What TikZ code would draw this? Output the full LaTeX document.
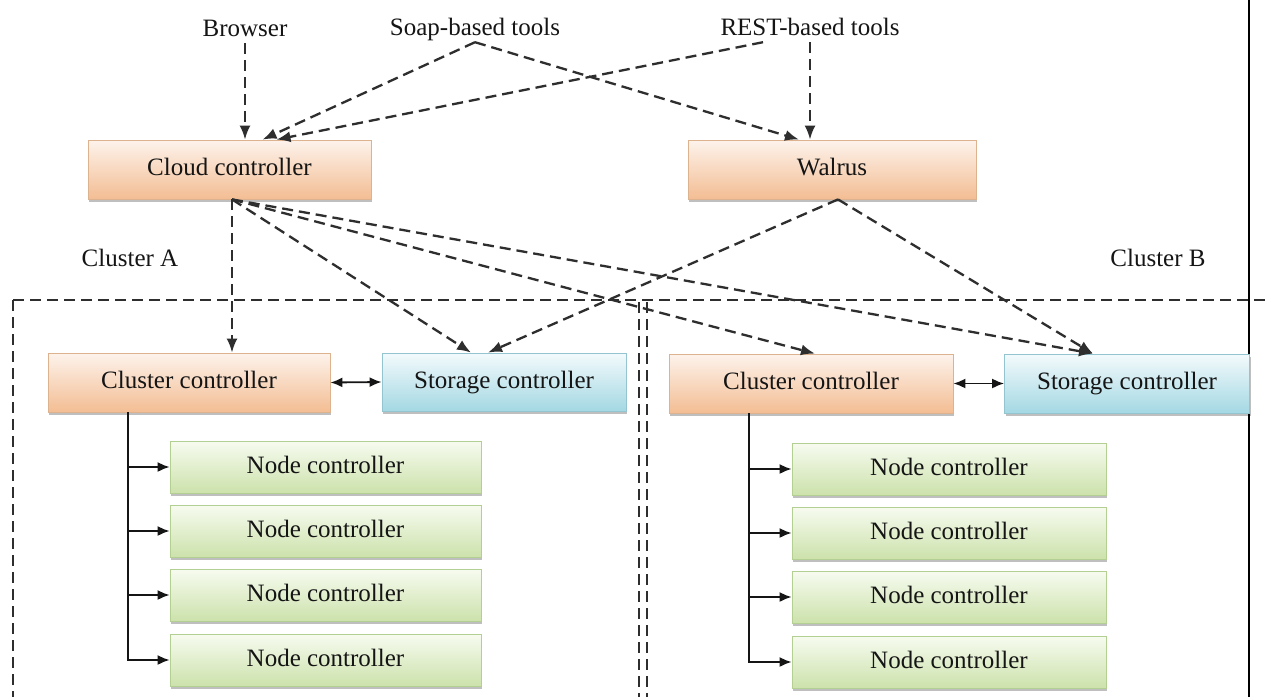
\documentclass[tikz,border=0pt]{standalone}
\usepackage{fontspec}
\setmainfont{Liberation Serif}
\usetikzlibrary{arrows.meta,shadows,calc}
\definecolor{txt}{HTML}{151515}
\definecolor{lin}{HTML}{2E2E2E}
\definecolor{orTop}{HTML}{FDF3EC}
\definecolor{orBot}{HTML}{F3BD93}
\definecolor{orEdge}{HTML}{DDB28E}
\definecolor{cyTop}{HTML}{F3FAFC}
\definecolor{cyBot}{HTML}{A4D8E3}
\definecolor{cyEdge}{HTML}{94C4D0}
\definecolor{grTop}{HTML}{F7FBF0}
\definecolor{grBot}{HTML}{CCE2AB}
\definecolor{grEdge}{HTML}{B4CF92}
\tikzset{
  box/.style={rectangle, inner sep=0pt, text=txt, line width=0.8pt,
    text height=18pt, text depth=6pt,
    drop shadow={shadow xshift=1pt, shadow yshift=-3pt, fill=black, opacity=0.25}},
  orangebox/.style={box, top color=orTop, bottom color=orBot, draw=orEdge},
  cyanbox/.style={box, top color=cyTop, bottom color=cyBot, draw=cyEdge},
  greenbox/.style={box, top color=grTop, bottom color=grBot, draw=grEdge,
    minimum height=52pt},
  lbl/.style={text=txt, inner sep=1pt, text height=18pt, text depth=6pt},
  dasharrow/.style={draw=lin, line width=2.3pt, dash pattern=on 11pt off 6pt,
    -{Latex[length=14pt,width=11pt]}},
  solidarrow/.style={draw=txt, line width=1.8pt, -{Latex[length=12pt,width=10pt]}},
  bothways/.style={draw=txt, line width=1.8pt, {Latex[length=12pt,width=10pt]}-{Latex[length=12pt,width=10pt]}},
  border/.style={draw=lin, line width=2pt, dash pattern=on 11pt off 6pt},
}
\begin{document}
\begin{tikzpicture}[x=1pt,y=-1pt,font=\fontsize{25}{28}\selectfont]
\useasboundingbox (0,0) rectangle (1265,697);
\fill[white] (0,0) rectangle (1265,697);

% frame lines
\draw[border] (13,300) -- (1265,300);
\draw[border] (13,300) -- (13,697);
\draw[border, line width=1.5pt] (639,302) -- (639,697);
\draw[border, line width=1.5pt] (647,302) -- (647,697);
\draw[black, line width=2.2pt] (1249,0) -- (1249,697);

% top labels
\node[lbl] (browser) at (245,30) {Browser};
\node[lbl] (soap) at (475,29) {Soap-based tools};
\node[lbl] (rest) at (810,29) {REST-based tools};

% main boxes
\node[orangebox, minimum width=283pt, minimum height=59pt] (cloud) at (229.5,169.5) {Cloud controller};
\node[orangebox, minimum width=288pt, minimum height=59pt] (walrus) at (832,169.5) {Walrus};

\node[lbl] (clA) at (130,260) {Cluster A};
\node[lbl] (clB) at (1158,260) {Cluster B};

% cluster A
\node[orangebox, minimum width=282pt, minimum height=59pt] (ccA) at (189,382.5) {Cluster controller};
\node[cyanbox, minimum width=244pt, minimum height=58pt] (scA) at (504,382) {Storage controller};
\node[greenbox, minimum width=311pt] (nA1) at (325.5,467) {Node controller};
\node[greenbox, minimum width=311pt] (nA2) at (325.5,531) {Node controller};
\node[greenbox, minimum width=311pt] (nA3) at (325.5,595) {Node controller};
\node[greenbox, minimum width=311pt] (nA4) at (325.5,660) {Node controller};

% cluster B
\node[orangebox, minimum width=284pt, minimum height=59pt] (ccB) at (811,383.5) {Cluster controller};
\node[cyanbox, minimum width=245pt, minimum height=59pt] (scB) at (1127,383.5) {Storage controller};
\node[greenbox, minimum width=314pt] (nB1) at (949,469) {Node controller};
\node[greenbox, minimum width=314pt] (nB2) at (949,533) {Node controller};
\node[greenbox, minimum width=314pt] (nB3) at (949,597) {Node controller};
\node[greenbox, minimum width=314pt] (nB4) at (949,662) {Node controller};

% top arrows
\draw[dasharrow] (browser.south) -- (browser.south |- cloud.north);
\draw[dasharrow] (soap.south) -- ([xshift=33pt]cloud.north);
\draw[dasharrow] ([xshift=-47pt]rest.south) -- ([xshift=47pt]cloud.north);
\draw[dasharrow] (soap.south) -- ([xshift=-33pt]walrus.north);
\draw[dasharrow] (rest.south) -- (rest.south |- walrus.north);

% cloud controller arrows
\draw[dasharrow] ([xshift=2.5pt]cloud.south) -- ([xshift=2.5pt]cloud.south |- ccA.north);
\draw[dasharrow] ([xshift=2.5pt]cloud.south) -- ([xshift=-33pt]scA.north);
\draw[dasharrow] ([xshift=2.5pt]cloud.south) -- ([xshift=4pt]ccB.north);
\draw[dasharrow] ([xshift=2.5pt]cloud.south) -- ([xshift=-34pt]scB.north);

% walrus arrows
\draw[dasharrow] ([xshift=6pt]walrus.south) -- ([xshift=-16pt]scA.north);
\draw[dasharrow] ([xshift=6pt]walrus.south) -- ([xshift=-34pt]scB.north);

% cluster <-> storage
\draw[bothways] (ccA.east) -- (scA.west);
\draw[bothways] (ccB.east) -- (scB.west);

% node trunks A
\coordinate (tA) at ([xshift=-61pt]ccA.south);
\draw[solidarrow] (tA) |- (nA4.west);
\draw[solidarrow] (tA |- nA1.west) -- (nA1.west);
\draw[solidarrow] (tA |- nA2.west) -- (nA2.west);
\draw[solidarrow] (tA |- nA3.west) -- (nA3.west);

% node trunks B
\coordinate (tB) at ([xshift=-62pt]ccB.south);
\draw[solidarrow] (tB) |- (nB4.west);
\draw[solidarrow] (tB |- nB1.west) -- (nB1.west);
\draw[solidarrow] (tB |- nB2.west) -- (nB2.west);
\draw[solidarrow] (tB |- nB3.west) -- (nB3.west);
\end{tikzpicture}
\end{document}
